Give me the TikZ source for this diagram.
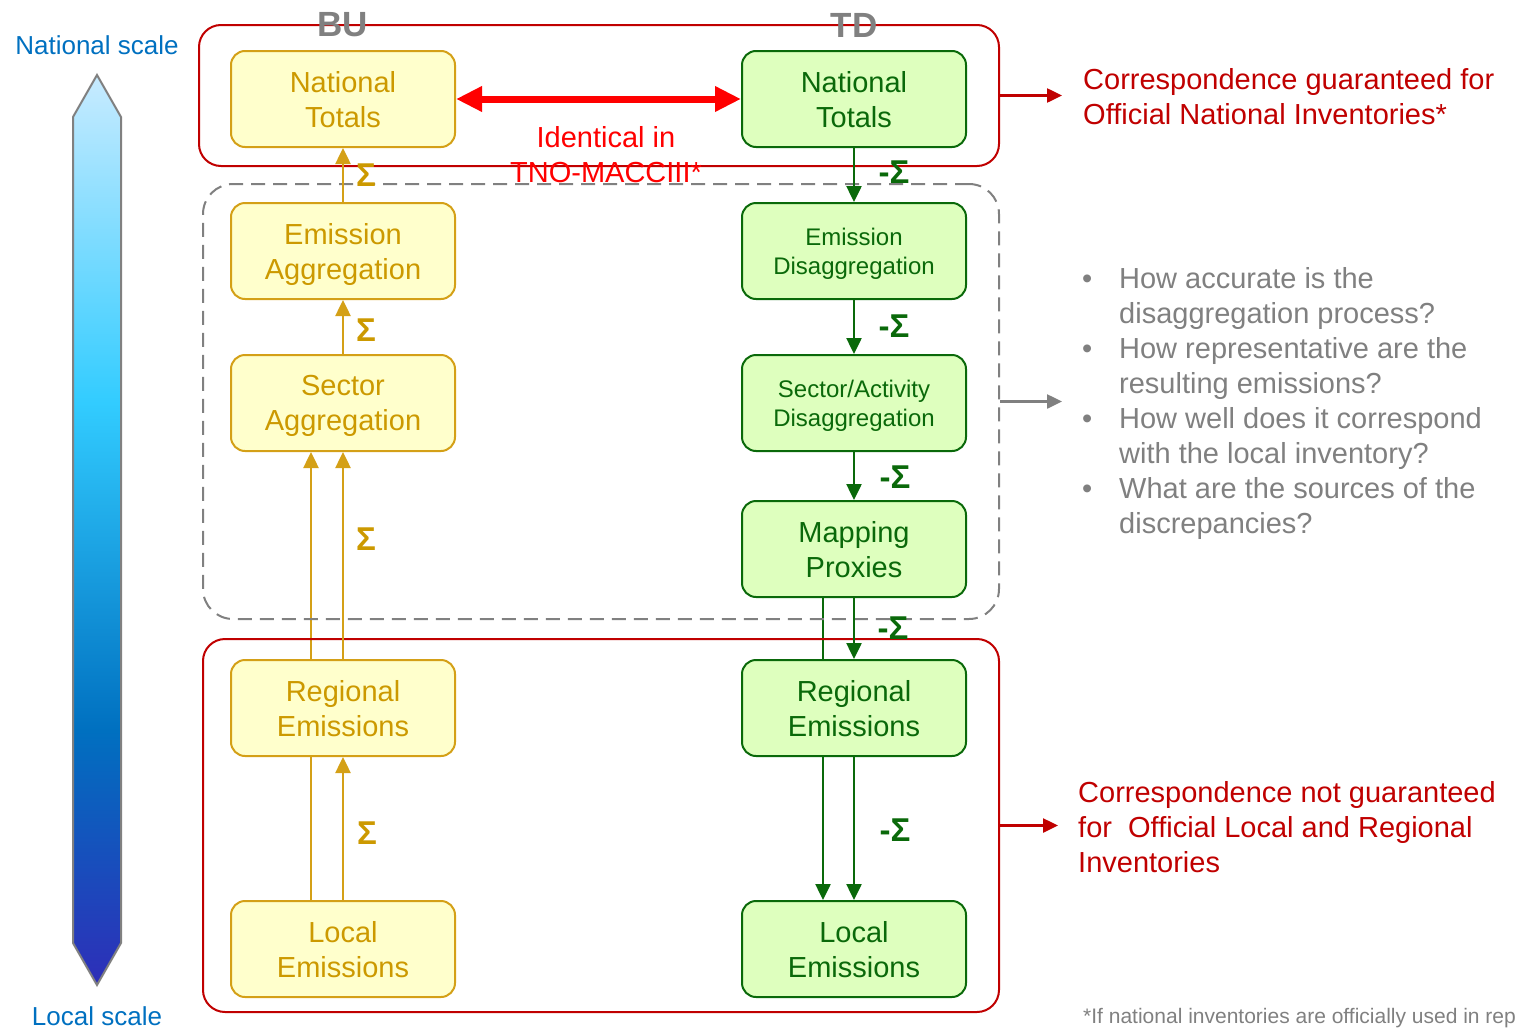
\documentclass[tikz,border=0pt]{standalone}
\usepackage{fontspec}
\setmainfont{Liberation Sans}
\usetikzlibrary{arrows.meta,backgrounds}
\definecolor{goldtx}{RGB}{204,153,0}
\definecolor{goldln}{RGB}{212,160,23}
\definecolor{goldfill}{RGB}{255,255,204}
\definecolor{grntx}{RGB}{10,105,10}
\definecolor{grnfill}{RGB}{222,255,190}
\definecolor{darkred}{RGB}{192,0,0}
\definecolor{brightred}{RGB}{255,0,0}
\definecolor{graytx}{RGB}{128,128,128}
\definecolor{scaleblue}{RGB}{0,112,192}
\definecolor{sblight}{RGB}{200,235,255}
\definecolor{sbcyan}{RGB}{50,204,255}
\definecolor{sbmid}{RGB}{0,112,192}
\definecolor{sbdark}{RGB}{46,46,184}
\pgfdeclareverticalshading{scalebar}{100bp}{color(0bp)=(sbdark); color(25bp)=(sbdark); color(39bp)=(sbmid); color(57bp)=(sbcyan); color(75bp)=(sblight); color(100bp)=(sblight)}
\begin{document}
\begin{tikzpicture}[x=1pt,y=-1pt,
  bigtxt/.style={font=\fontsize{29}{35}\selectfont},
  smalltxt/.style={font=\fontsize{24}{29}\selectfont},
  bubox/.style={draw=goldln, fill=goldfill, text=goldtx, line width=2pt, rounded corners=14pt,
    minimum width=224pt, minimum height=96pt, align=center, inner sep=0pt, text depth=0pt},
  tdbox/.style={draw=grntx, fill=grnfill, text=grntx, line width=2pt, rounded corners=14pt,
    minimum width=224pt, minimum height=96pt, align=center, inner sep=0pt, text depth=0pt},
  redframe/.style={draw=darkred, line width=2pt, rounded corners=22pt, inner sep=0pt},
  grayframe/.style={draw=graytx, line width=2pt, dashed, dash pattern=on 14pt off 8pt, rounded corners=30pt, inner sep=0pt},
  goldarrow/.style={draw=goldln, line width=2.5pt, -{Triangle[length=16pt,width=15pt]}},
  grnarrow/.style={draw=grntx, line width=2.5pt, -{Triangle[length=16pt,width=15pt]}},
  sigbu/.style={text=goldtx, font=\fontsize{33}{33}\selectfont\bfseries, inner sep=0pt},
  sigtd/.style={text=grntx, font=\fontsize{33}{33}\selectfont\bfseries, inner sep=0pt},
  buttd/.style={text=graytx, font=\fontsize{35}{35}\selectfont\bfseries, inner sep=0pt},
  scaletxt/.style={text=scaleblue, font=\fontsize{26}{30}\selectfont, inner sep=0pt},
  notetxt/.style={text=darkred, font=\fontsize{29}{35}\selectfont, align=left, inner sep=0pt, anchor=west},
  notearrow/.style={draw=darkred, line width=2.5pt, -{Triangle[length=15pt,width=14pt]}},
  grayarrow/.style={draw=graytx, line width=2.5pt, -{Triangle[length=15pt,width=14pt]}}
]
\useasboundingbox (0,0) rectangle (1516,1028);
\clip (0,0) rectangle (1516,1028);

% frames
\node[redframe, minimum width=800pt, minimum height=141pt] (topframe) at (599,95.5) {};
\node[grayframe, minimum width=796pt, minimum height=435pt] (midframe) at (601,401.5) {};
\node[redframe, minimum width=796pt, minimum height=373pt] (botframe) at (601,825.5) {};

% scale bar
\shadedraw[shading=scalebar, draw=graytx, line width=2pt]
  (97,75) -- (121,117) -- (121,943) -- (97,985) -- (73,943) -- (73,117) -- cycle;
\node[scaletxt] (natscale) at (97,45) {National scale};
\node[scaletxt] (locscale) at (97,1016) {Local scale};

% BU / TD headers
\node[buttd] (bu) at (343,25) {BU};
\node[buttd] (td) at (854,25) {TD};

% BU boxes
\node[bubox, bigtxt] (natbu) at (343,99) {National\\Totals};
\node[bubox, bigtxt] (embu) at (343,251) {Emission\\Aggregation};
\node[bubox, bigtxt] (secbu) at (343,403) {Sector\\Aggregation};
\node[bubox, bigtxt] (regbu) at (343,708) {Regional\\Emissions};
\node[bubox, bigtxt] (locbu) at (343,949) {Local\\Emissions};

% TD boxes
\node[tdbox, bigtxt] (nattd) at (854,99) {National\\Totals};
\node[tdbox, smalltxt] (emtd) at (854,251) {Emission\\Disaggregation};
\node[tdbox, smalltxt] (sectd) at (854,403) {Sector/Activity\\Disaggregation};
\node[tdbox, bigtxt] (maptd) at (854,549) {Mapping\\Proxies};
\node[tdbox, bigtxt] (regtd) at (854,708) {Regional\\Emissions};
\node[tdbox, bigtxt] (loctd) at (854,949) {Local\\Emissions};

% long connectors behind the regional boxes
\begin{scope}[on background layer]
  \draw[goldarrow] ([xshift=-32pt]locbu.north) -- ([xshift=-32pt]secbu.south);
  \draw[grnarrow] ([xshift=-31pt]maptd.south) -- ([xshift=-31pt]loctd.north);
\end{scope}

% BU connectors
\draw[goldarrow] (embu.north) -- (natbu.south);
\draw[goldarrow] (secbu.north) -- (embu.south);
\draw[goldarrow] (regbu.north) -- (secbu.south);
\draw[goldarrow] (locbu.north) -- (regbu.south);

% TD connectors
\draw[grnarrow] (nattd.south) -- (emtd.north);
\draw[grnarrow] (emtd.south) -- (sectd.north);
\draw[grnarrow] (sectd.south) -- (maptd.north);
\draw[grnarrow] (maptd.south) -- (regtd.north);
\draw[grnarrow] (regtd.south) -- (loctd.north);

% sigma labels
\node[sigbu] (s1) at (366,175) {Σ};
\node[sigbu] (s2) at (366,330) {Σ};
\node[sigbu] (s3) at (366,539) {Σ};
\node[sigbu] (s4) at (367,833) {Σ};
\node[sigtd] (t1) at (894,172) {-Σ};
\node[sigtd] (t2) at (894,326) {-Σ};
\node[sigtd] (t3) at (895,477) {-Σ};
\node[sigtd] (t4) at (893,628) {-Σ};
\node[sigtd] (t5) at (895,830) {-Σ};

% identical arrow
\draw[brightred, line width=7pt, {Triangle[length=26pt,width=24pt]}-{Triangle[length=26pt,width=24pt]}] (natbu.east) -- (nattd.west);
\node[text=brightred, bigtxt, align=center, inner sep=0pt] (ident) at (606,155) {Identical in\\TNO-MACCIII*};

% right notes
\coordinate (topend) at (1062,95.5);
\coordinate (midend) at (1062,401.5);
\coordinate (botend) at (1058,825.5);
\draw[notearrow] (topframe.east) -- (topend);
\draw[grayarrow] (midframe.east) -- (midend);
\draw[notearrow] (botframe.east) -- (botend);

\node[notetxt] (topnote) at (1083,97) {Correspondence guaranteed for\\Official National Inventories*};
\node[notetxt] (botnote) at (1078,827.5) {Correspondence not guaranteed\\for\ \ Official Local and Regional\\Inventories};

\node[anchor=west, inner sep=0pt, text=graytx, font=\fontsize{29}{35}\selectfont] (bullets) at (1082,403.5) {%
\begin{tabular}{@{}p{37pt}@{}l@{}}
• & How accurate is the\\
 & disaggregation process?\\
• & How representative are the\\
 & resulting emissions?\\
• & How well does it correspond\\
 & with the local inventory?\\
• & What are the sources of the\\
 & discrepancies?
\end{tabular}};

\node[anchor=west, inner sep=0pt, text=graytx, font=\fontsize{21}{24}\selectfont] (foot) at (1083,1018) {*If national inventories are officially used in rep};
\end{tikzpicture}
\end{document}
